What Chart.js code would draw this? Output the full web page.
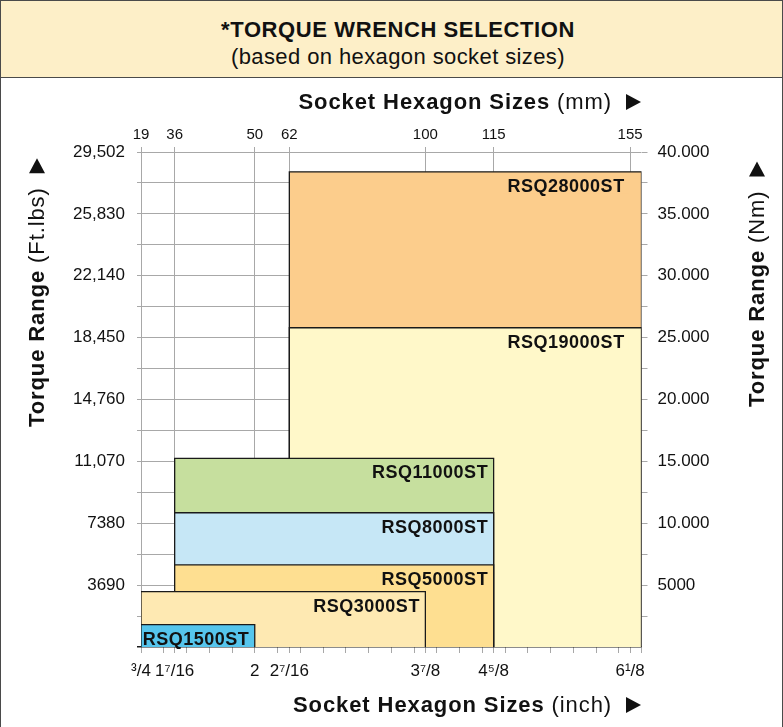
<!DOCTYPE html>
<html>
<head>
<meta charset="utf-8">
<script src="https://cdn.jsdelivr.net/npm/chart.js@4.4.1/dist/chart.umd.min.js"></script>
<style>
  html, body { margin: 0; padding: 0; background: #fff; }
  #wrap { position: relative; width: 783px; height: 727px; overflow: hidden; font-family: "Liberation Sans", Arial, sans-serif; color: #111; }
  #chartBox { position: absolute; left: 0; top: 0; width: 783px; height: 727px; }
  #header { position: absolute; left: 0; top: 0; width: 783px; height: 78px; box-sizing: border-box;
            background: #fdefc8; border-bottom: 1.5px solid #4a4a4a; text-align: center; }
  #header .t1 { position: absolute; left: 13px; right: 0; top: 17px; font-size: 22px; font-weight: bold; letter-spacing: 0.6px; }
  #header .t2 { position: absolute; left: 13px; right: 0; top: 44px; font-size: 22px; letter-spacing: 0.4px; }
  #frame { position: absolute; left: 0; top: 0; width: 783px; height: 740px; box-sizing: border-box;
           border: 1.5px solid #4a4a4a; pointer-events: none; }
</style>
</head>
<body>
<div id="wrap">
  <div id="chartBox"><canvas id="chart"></canvas></div>
  <div id="header">
    <div class="t1">*TORQUE WRENCH SELECTION</div>
    <div class="t2">(based on hexagon socket sizes)</div>
  </div>
  <div id="frame"></div>
</div>
<script>
// wrench models, max torque (Nm) and socket size span (inch axis units, as drawn)
const models = ['RSQ1500ST', 'RSQ3000ST', 'RSQ5000ST', 'RSQ8000ST', 'RSQ11000ST', 'RSQ19000ST', 'RSQ28000ST'];
const maxTorqueNm = [1815, 4480, 6630, 10850, 15250, 25800, 38400];
const sizeFromIn = [0.75, 0.75, 1.12, 1.12, 1.12, 2.38, 2.38];
const sizeToIn = [2, 3.875, 4.625, 4.625, 4.625, 6.25, 6.25];

// socket size ticks
const sizeTicksIn = [0.75, 1.12, 2, 2.38, 3.875, 4.625, 6.125];
const mmLabels = ['19', '36', '50', '62', '100', '115', '155'];
const inchLabels = ['³/4', '1⁷/16', '2', '2⁷/16', '3⁷/8', '4⁵/8', '6¹/8'];

// torque ticks
const nmTicks = [5000, 10000, 15000, 20000, 25000, 30000, 35000, 40000];
const nmLabels = ['5000', '10.000', '15.000', '20.000', '25.000', '30.000', '35.000', '40.000'];
const ftLbsLabels = ['3690', '7380', '11,070', '14,760', '18,450', '22,140', '25,830', '29,502'];

const barColors = ['#56c5ec', '#fee9b2', '#fedf91', '#c6e7f6', '#c6df9e', '#fff8c9', '#fccd8c'];
const gridGray = '#a8a8a8';
const FONT = '"Liberation Sans", Arial, sans-serif';

// each block is an open outline filled down to zero torque
const datasets = models.map((m, i) => ({
    label: m,
    xAxisID: 'x',
    yAxisID: 'y',
    data: [
        { x: sizeFromIn[i], y: 0 },
        { x: sizeFromIn[i], y: maxTorqueNm[i] },
        { x: sizeToIn[i], y: maxTorqueNm[i] },
        { x: sizeToIn[i], y: 0 }
    ],
    showLine: true,
    fill: 'origin',
    backgroundColor: barColors[i],
    borderColor: '#1a1a1a',
    borderWidth: 1.3,
    pointRadius: 0,
    tension: 0
}));

const torqueTicks = () => {
    const t = [];
    for (let v = 0; v <= 40000; v += 2500) t.push({ value: v });
    return t;
};

// model names in the top right corner of each block
const modelLabels = {
    id: 'modelLabels',
    afterDraw(chart) {
        const { ctx, scales } = chart;
        const xs = scales.x, ys = scales.y;
        ctx.save();
        ctx.font = 'bold 18px ' + FONT;
        ctx.letterSpacing = '0.5px';
        ctx.textAlign = 'right';
        ctx.textBaseline = 'alphabetic';
        models.forEach((m, i) => {
            const left = xs.getPixelForValue(sizeFromIn[i]);
            const right = Math.min(xs.getPixelForValue(sizeToIn[i]), xs.getPixelForValue(6.125)) - 6;
            const top = ys.getPixelForValue(maxTorqueNm[i]);
            const w = ctx.measureText(m).width;
            const bx = Math.max(right - w - 5, left + 1.5);
            ctx.fillStyle = barColors[i];
            ctx.fillRect(bx, top + 4, right + 4 - bx, 18);
            ctx.fillStyle = '#111';
            ctx.fillText(m, right + 0.5, top + 20);
        });
        ctx.restore();
    }
};

// axis titles with bold / regular parts and an arrow
const axisTitles = {
    id: 'axisTitles',
    afterDraw(chart) {
        const ctx = chart.ctx;
        const draw = (bold, normal, x, y, angle, alignEnd) => {
            ctx.save();
            ctx.fillStyle = '#111';
            ctx.textBaseline = 'middle';
            ctx.textAlign = 'left';
            ctx.letterSpacing = '0.9px';
            ctx.font = 'bold 22px ' + FONT;
            const wb = ctx.measureText(bold + ' ').width;
            ctx.font = '22px ' + FONT;
            const wn = ctx.measureText(normal).width;
            const total = wb + wn + 14 + 15;
            ctx.translate(x, y);
            ctx.rotate(angle);
            const sx = alignEnd ? -total : 0;
            ctx.font = 'bold 22px ' + FONT;
            ctx.fillText(bold + ' ', sx, 1);
            ctx.font = '22px ' + FONT;
            ctx.fillText(normal, sx + wb, 1);
            const tx = sx + wb + wn + 14;
            ctx.beginPath();
            ctx.moveTo(tx, -8);
            ctx.lineTo(tx + 15, 0);
            ctx.lineTo(tx, 8);
            ctx.closePath();
            ctx.fill();
            ctx.restore();
        };
        draw('Socket Hexagon Sizes', '(mm)', 641, 102, 0, true);
        draw('Socket Hexagon Sizes', '(inch)', 641, 705, 0, true);
        draw('Torque Range', '(Ft.lbs)', 37, 427, -Math.PI / 2, false);
        draw('Torque Range', '(Nm)', 757, 407, -Math.PI / 2, false);
    }
};

new Chart(document.getElementById('chart'), {
    type: 'line',
    data: { datasets },
    options: {
        responsive: true,
        maintainAspectRatio: false,
        animation: false,
        events: [],
        layout: { padding: 0 },
        plugins: {
            legend: { display: false },
            tooltip: { enabled: false },
            filler: { propagate: false }
        },
        scales: {
            x: {
                type: 'linear', position: 'bottom', min: 0.75, max: 6.25, z: 1,
                afterBuildTicks: (s) => {
                    const v = [];
                    for (let k = 0; k <= 22; k++) v.push(+(0.75 + k * 0.25).toFixed(3));
                    sizeTicksIn.forEach(t => { if (!v.includes(t)) v.push(t); });
                    v.sort((a, b) => a - b);
                    s.ticks = v.map(value => ({ value }));
                },
                afterFit: (s) => { s.height = 80; },
                ticks: {
                    autoSkip: false, maxRotation: 0, padding: 8, color: '#111',
                    font: { family: FONT, size: 17 },
                    callback: (v) => { const i = sizeTicksIn.indexOf(v); return i >= 0 ? inchLabels[i] : ''; }
                },
                grid: {
                    color: (c) => sizeTicksIn.includes(c.tick.value) ? gridGray : 'rgba(0,0,0,0)',
                    tickColor: gridGray, tickLength: 6, lineWidth: 1
                },
                border: { display: false }
            },
            xTop: {
                type: 'linear', position: 'top', min: 0.75, max: 6.25,
                afterBuildTicks: (s) => { s.ticks = sizeTicksIn.map(value => ({ value })); },
                afterFit: (s) => { s.height = 152; },
                ticks: {
                    autoSkip: false, maxRotation: 0, padding: 3, color: '#111',
                    font: { family: FONT, size: 15 },
                    callback: (v) => mmLabels[sizeTicksIn.indexOf(v)]
                },
                grid: { drawOnChartArea: false, color: gridGray, tickLength: 5 },
                border: { display: false }
            },
            y: {
                type: 'linear', position: 'left', min: 0, max: 40000, z: 1,
                afterBuildTicks: (s) => { s.ticks = torqueTicks(); },
                afterFit: (s) => { s.width = 141; },
                ticks: {
                    autoSkip: false, padding: 12, color: '#111',
                    font: { family: FONT, size: 17 },
                    callback: (v) => { const i = nmTicks.indexOf(v); return i >= 0 ? ftLbsLabels[i] : ''; }
                },
                grid: {
                    color: (c) => c.tick.value === 0 ? '#1a1a1a' : gridGray,
                    lineWidth: (c) => c.tick.value === 0 ? 1.5 : 1,
                    tickLength: 4
                },
                border: { display: false }
            },
            yRight: {
                type: 'linear', position: 'right', min: 0, max: 40000,
                afterBuildTicks: (s) => { s.ticks = torqueTicks(); },
                afterFit: (s) => { s.width = 141.5; },
                ticks: {
                    autoSkip: false, padding: 10, color: '#111',
                    font: { family: FONT, size: 17 },
                    callback: (v) => { const i = nmTicks.indexOf(v); return i >= 0 ? nmLabels[i] : ''; }
                },
                grid: {
                    drawOnChartArea: false,
                    color: (c) => c.tick.value === 0 ? 'rgba(0,0,0,0)' : gridGray,
                    tickLength: 6
                },
                border: { display: false }
            }
        }
    },
    plugins: [modelLabels, axisTitles]
});
</script>
</body>
</html>
